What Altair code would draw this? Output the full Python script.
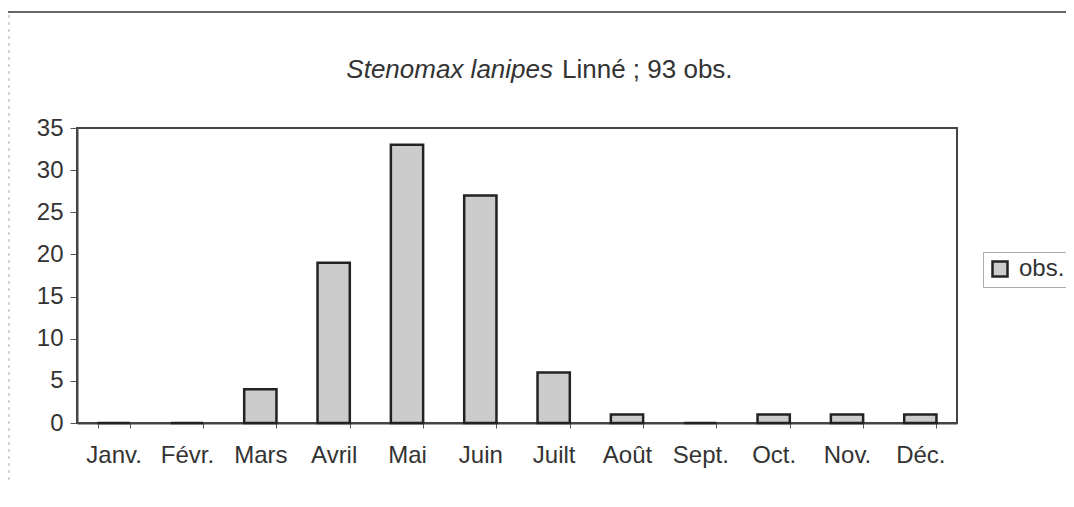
import altair as alt
import pandas as pd

months = ["Janv.", "Févr.", "Mars", "Avril", "Mai", "Juin", "Juilt", "Août", "Sept.", "Oct.", "Nov.", "Déc."]
obs = [0, 0, 4, 19, 33, 27, 6, 1, 0, 1, 1, 1]
series = ["obs."] * len(months)
y_ticks = [0, 5, 10, 15, 20, 25, 30, 35]

title_italic = "Stenomax lanipes"
title_rest = "Linné ; 93 obs."

df = pd.DataFrame({"month": months, "obs": obs, "series": series})

FONT = "Liberation Sans"
W, H = 880, 295

bars = alt.Chart(df).mark_bar(stroke="#222222", strokeWidth=2.5).encode(
    x=alt.X("month:N", sort=months, title=None,
            scale=alt.Scale(paddingInner=0.56, paddingOuter=0.28),
            axis=alt.Axis(labelAngle=0, tickBand="extent", tickSize=5, tickColor="#555555",
                          domainColor="#444444", domainWidth=2, labelFontSize=24,
                          labelColor="#333333", labelPadding=15, labelFont=FONT)),
    y=alt.Y("obs:Q", title=None, scale=alt.Scale(domain=[0, 35], nice=False),
            axis=alt.Axis(values=y_ticks, grid=False, tickSize=7, tickColor="#555555",
                          domainColor="#444444", domainWidth=2, labelFontSize=24,
                          labelColor="#333333", labelPadding=7, labelFont=FONT)),
    color=alt.Color("series:N", scale=alt.Scale(range=["#cccccc"]),
                    legend=alt.Legend(orient="none", legendX=906, legendY=124, title=None,
                                      symbolType="square", symbolSize=225,
                                      symbolStrokeColor="#222222", symbolStrokeWidth=2.5,
                                      labelFontSize=24, labelFont=FONT, labelColor="#333333",
                                      strokeColor="#aaaaaa", padding=5, labelOffset=7)),
)

t1 = alt.Chart(pd.DataFrame({"t": [title_italic]})).mark_text(
    font=FONT, fontSize=26, fontStyle="italic", align="right", baseline="alphabetic", color="#333333"
).encode(text="t:N", x=alt.value(476), y=alt.value(-50))

t2 = alt.Chart(pd.DataFrame({"t": [title_rest]})).mark_text(
    font=FONT, fontSize=26, align="left", baseline="alphabetic", color="#333333"
).encode(text="t:N", x=alt.value(485), y=alt.value(-50))

top_line = alt.Chart(pd.DataFrame({"a": [0]})).mark_rule(color="#666666", strokeWidth=2).encode(
    x=alt.value(-77), x2=alt.value(1000), y=alt.value(-116))

left_line = alt.Chart(pd.DataFrame({"a": [0]})).mark_rule(color="#aaaaaa", strokeWidth=1, strokeDash=[3, 4]).encode(
    x=alt.value(-68), y=alt.value(-113), y2=alt.value(379))

chart = alt.layer(top_line, left_line, bars, t1, t2).properties(
    width=W, height=H,
    autosize=alt.AutoSizeParams(type="none"),
    padding={"left": 69, "top": 120, "right": 109, "bottom": 60},
    background="white",
).configure_view(stroke="#444444", strokeWidth=2)

chart.save("out.html", embed_options={"renderer": "svg", "actions": False})
